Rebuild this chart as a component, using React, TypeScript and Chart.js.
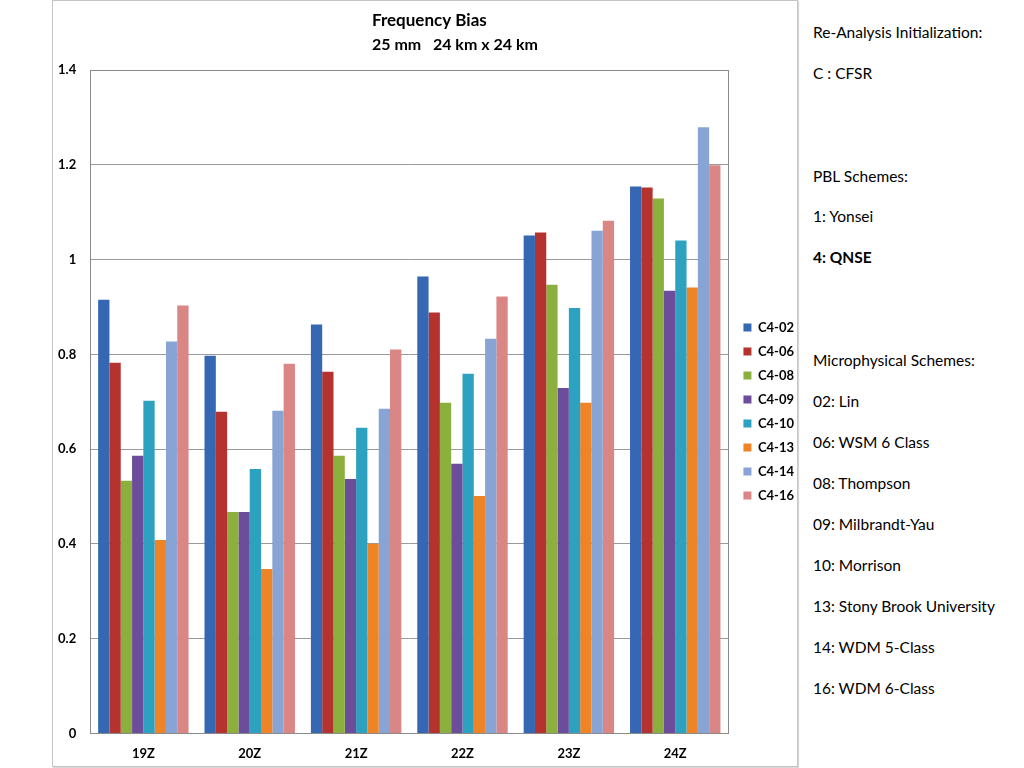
import React, { useEffect, useRef } from "react";
import { Chart, registerables } from "chart.js";

Chart.register(...registerables);

const categories = ["19Z", "20Z", "21Z", "22Z", "23Z", "24Z"];
const seriesNames = ["C4-02", "C4-06", "C4-08", "C4-09", "C4-10", "C4-13", "C4-14", "C4-16"];
const c402 = [0.915, 0.797, 0.863, 0.964, 1.051, 1.154];
const c406 = [0.782, 0.679, 0.763, 0.888, 1.057, 1.152];
const c408 = [0.533, 0.467, 0.586, 0.698, 0.947, 1.129];
const c409 = [0.586, 0.467, 0.537, 0.569, 0.729, 0.934];
const c410 = [0.702, 0.558, 0.645, 0.759, 0.898, 1.04];
const c413 = [0.408, 0.347, 0.4, 0.501, 0.698, 0.941];
const c414 = [0.827, 0.681, 0.685, 0.833, 1.061, 1.279];
const c416 = [0.903, 0.78, 0.81, 0.922, 1.082, 1.199];
const seriesValues = [c402, c406, c408, c409, c410, c413, c414, c416];
const seriesColors = ["#3567B2", "#B5332F", "#8CB03E", "#6C4D9B", "#2DA2C0", "#EE8426", "#87A4D5", "#D98685"];

const titleLines = ["Frequency Bias", "25 mm   24 km x 24 km"];

const sideNotes: { text: string; top: number; bold?: boolean }[] = [
  { text: "Re-Analysis Initialization:", top: 32 },
  { text: "C : CFSR", top: 73 },
  { text: "PBL Schemes:", top: 176 },
  { text: "1: Yonsei", top: 216 },
  { text: "4: QNSE", top: 257, bold: true },
  { text: "Microphysical Schemes:", top: 360 },
  { text: "02: Lin", top: 401 },
  { text: "06: WSM 6 Class", top: 442 },
  { text: "08: Thompson", top: 483 },
  { text: "09: Milbrandt-Yau", top: 524 },
  { text: "10: Morrison", top: 565 },
  { text: "13: Stony Brook University", top: 606 },
  { text: "14: WDM 5-Class", top: 647 },
  { text: "16: WDM 6-Class", top: 688 },
];

const FONT = "Lato, 'Open Sans', sans-serif";

const legendShift = {
  id: "legendShift",
  afterLayout(chart: any) {
    const lg = chart.legend;
    if (!lg) return;
    lg.top -= 11;
    lg.bottom -= 11;
    lg.left += 4;
    lg.right += 4;
  },
};

const framePlugin = {
  id: "frameAndTitle",
  afterDraw(chart: any) {
    const { ctx, chartArea } = chart;
    ctx.save();
    ctx.strokeStyle = "#8a8a8a";
    ctx.lineWidth = 1;
    ctx.strokeRect(
      Math.round(chartArea.left) + 0.5,
      Math.round(chartArea.top) + 0.5,
      Math.round(chartArea.right - chartArea.left),
      Math.round(chartArea.bottom - chartArea.top)
    );
    ctx.fillStyle = "#000";
    ctx.textBaseline = "middle";
    ctx.textAlign = "left";
    ctx.font = `bold 17px ${FONT}`;
    ctx.fillText(titleLines[0], 319, 20);
    ctx.font = `bold 16px ${FONT}`;
    ctx.fillText(titleLines[1], 319, 44);
    ctx.restore();
  },
};

export default function App() {
  const ref = useRef<HTMLCanvasElement>(null);

  useEffect(() => {
    if (!ref.current) return;
    const chart = new Chart(ref.current, {
      type: "bar",
      data: {
        labels: categories,
        datasets: seriesNames.map((name, i) => ({
          label: name,
          data: seriesValues[i],
          backgroundColor: seriesColors[i],
          borderWidth: 0,
          barPercentage: 1,
          categoryPercentage: 0.85,
        })),
      },
      options: {
        animation: false,
        responsive: false,
        maintainAspectRatio: false,
        layout: { padding: { top: 69, right: -3, bottom: -9, left: -9 } },
        plugins: {
          title: { display: false },
          tooltip: { enabled: false },
          legend: {
            position: "right",
            align: "center",
            labels: {
              boxWidth: 8,
              boxHeight: 8,
              padding: 11,
              color: "#000",
              font: { family: FONT, size: 13, weight: "bold" },
            },
          },
        },
        scales: {
          x: {
            grid: { display: false, drawTicks: false },
            border: { display: true, color: "#8a8a8a" },
            ticks: {
              color: "#000",
              padding: 13,
              font: { family: FONT, size: 13, weight: "bold" },
            },
          },
          y: {
            min: 0,
            max: 1.4,
            grid: { color: "#9a9a9a", drawTicks: false },
            border: { display: true, color: "#8a8a8a" },
            ticks: {
              stepSize: 0.2,
              color: "#000",
              padding: 14,
              font: { family: FONT, size: 13, weight: "bold" },
              callback: (v: any) => String(Math.round(Number(v) * 10) / 10),
            },
          },
        },
      },
      plugins: [legendShift, framePlugin],
    });
    return () => chart.destroy();
  }, []);

  return (
    <div style={{ position: "absolute", left: 0, top: 0, width: 1024, height: 768, background: "#fff" }}>
      <div
        style={{
          position: "absolute",
          left: 52,
          top: 0,
          width: 744,
          height: 765,
          border: "1px solid #c4c4c4",
          boxShadow: "1px 1px 1px #d8d8d8",
        }}
      >
        <canvas ref={ref} width={744} height={765} style={{ display: "block" }} />
      </div>
      {sideNotes.map((n, i) => (
        <div
          key={i}
          style={{
            position: "absolute",
            left: 813,
            top: n.top - 10,
            fontFamily: FONT,
            fontSize: 15.5,
            fontWeight: n.bold ? "bold" : "normal",
            color: "#000",
            lineHeight: "20px",
            whiteSpace: "nowrap",
          }}
        >
          {n.text}
        </div>
      ))}
    </div>
  );
}
